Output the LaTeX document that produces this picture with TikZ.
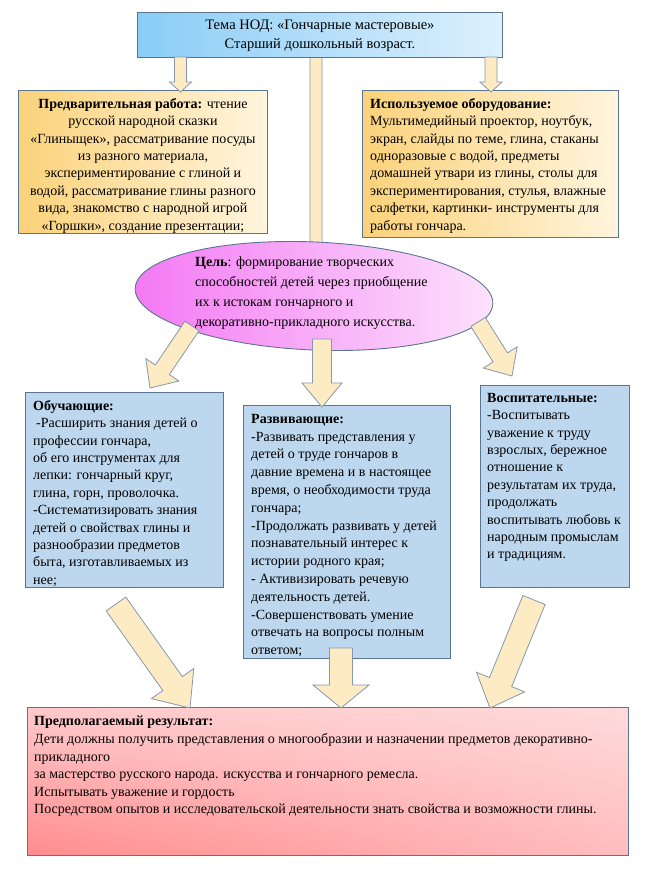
\documentclass[tikz,border=0pt]{standalone}
\usepackage{fontspec}
\setmainfont{Liberation Serif}
\usetikzlibrary{shapes.geometric,calc,shadings}

\definecolor{titleL}{HTML}{8ACDF6}
\definecolor{titleR}{HTML}{DDF0FD}
\definecolor{orgL}{HTML}{FBD27A}
\definecolor{orgR}{HTML}{FFF5DE}
\definecolor{ellL}{HTML}{F479F4}
\definecolor{ellR}{HTML}{FCE2FC}
\definecolor{bluebox}{HTML}{BDD7EE}
\definecolor{boxline}{HTML}{5A7590}
\definecolor{arrfill}{HTML}{FDEBC4}
\definecolor{arrline}{HTML}{8797AE}
\definecolor{resUL}{HTML}{FFC9CB}
\definecolor{resUR}{HTML}{FFDADB}
\definecolor{resLL}{HTML}{FF8C8E}
\definecolor{resLR}{HTML}{FFBDBF}

\tikzset{
 box/.style={draw=boxline, line width=0.9pt, inner sep=0pt, anchor=north west},
 txt/.style={inner sep=0pt, anchor=north west, align=left, font=\fontsize{14}{17.4}\selectfont},
 barrow/.style={draw=arrline, fill=arrfill, line width=0.8pt, line join=miter},
}

% block arrow: #1 start, #2 tip, #3 shaft width, #4 head width, #5 head length
\newcommand{\blockarrow}[5]{%
 \path[barrow] let \p1=(#1), \p2=(#2), \n1={atan2(\y2-\y1,\x2-\x1)}, \n2={veclen(\x2-\x1,\y2-\y1)} in
 {[shift={(\p1)}, rotate=\n1]
  (0pt,{#3*0.5pt}) -- ({(\n2-#5)*1pt},{#3*0.5pt}) -- ({(\n2-#5)*1pt},{#4*0.5pt})
  -- ({\n2*1pt},0pt) -- ({(\n2-#5)*1pt},{-#4*0.5pt}) -- ({(\n2-#5)*1pt},{-#3*0.5pt})
  -- (0pt,{-#3*0.5pt}) -- cycle};
}

\begin{document}
\begin{tikzpicture}[x=1pt,y=-1pt]
\useasboundingbox (0,0) rectangle (647,871);

% arrow coordinates
\coordinate (a1s) at (180.5,57);  \coordinate (a1e) at (180.5,92);
\coordinate (a2s) at (491,57);    \coordinate (a2e) at (491,92);
\coordinate (a3s) at (316,57);    \coordinate (a3e) at (316,285);
\coordinate (a4s) at (192,326);   \coordinate (a4e) at (150,388);
\coordinate (a5s) at (322,339);   \coordinate (a5e) at (322,407);
\coordinate (a6s) at (478,322);   \coordinate (a6e) at (512,376);
\coordinate (a7s) at (116,604);   \coordinate (a7e) at (190,708);
\coordinate (a8s) at (341,648);   \coordinate (a8e) at (341,708);
\coordinate (a9s) at (534,600);   \coordinate (a9e) at (490,708);

% middle arrow from title, behind the ellipse
\blockarrow{a3s}{a3e}{12}{22}{10}

% title
\node[box, left color=titleL, right color=titleR, minimum width=365pt, minimum height=45pt] (title) at (137,12) {};
\node[inner sep=0pt, align=center, font=\fontsize{14.5}{18.5}\selectfont] (titletext) at ($(title.center)+(0,1)$)
 {Тема НОД: «Гончарные мастеровые»\\Старший дошкольный возраст.};

% preparation box
\node[box, left color=orgL, right color=orgR, minimum width=249pt, minimum height=143pt] (prep) at (18,90) {};
\node[txt, anchor=north, align=center] (preptext) at ($(prep.north)+(0,8)$)
 {\textbf{Предварительная работа:} чтение\\
  русской народной сказки\\
  «Глиныщек», рассматривание посуды\\
  из разного материала,\\
  экспериментирование с глиной и\\
  водой, рассматривание глины разного\\
  вида, знакомство с народной игрой\\
  «Горшки», создание презентации;};

% equipment box
\node[box, left color=orgL, right color=orgR, minimum width=256pt, minimum height=147pt] (equip) at (362,90) {};
\node[txt] (equiptext) at ($(equip.north west)+(8,8)$)
 {\textbf{Используемое оборудование:}\\
  Мультимедийный проектор, ноутбук,\\
  экран, слайды по теме, глина, стаканы\\
  одноразовые с водой, предметы\\
  домашней утвари из глины, столы для\\
  экспериментирования, стулья, влажные\\
  салфетки, картинки- инструменты для\\
  работы гончара.};

% goal ellipse
\node[ellipse, draw=boxline, line width=0.9pt, left color=ellL, right color=ellR, rotate=-2.5,
      minimum width=358pt, minimum height=108pt, inner sep=0pt] (goal) at (314,296) {};
\node[txt, font=\fontsize{14}{20}\selectfont] (goaltext) at (195,257)
 {\textbf{Цель}: формирование творческих\\
  способностей детей через приобщение\\
  их к истокам гончарного и\\
  декоративно-прикладного искусства.};

% three task boxes
\node[box, fill=bluebox, minimum width=198pt, minimum height=195pt] (teach) at (25,392) {};
\node[txt] (teachtext) at ($(teach.north west)+(8,8)$)
 {\textbf{Обучающие:}\\
  \hspace{3pt}-Расширить знания детей о\\
  профессии гончара,\\
  об его инструментах для\\
  лепки: гончарный круг,\\
  глина, горн, проволочка.\\
  -Систематизировать знания\\
  детей о свойствах глины и\\
  разнообразии предметов\\
  быта, изготавливаемых из\\
  нее;};

\node[box, fill=bluebox, minimum width=207pt, minimum height=253pt] (develop) at (243,405) {};
\node[txt, font=\fontsize{14}{17.8}\selectfont] (developtext) at ($(develop.north west)+(8,9)$)
 {\textbf{Развивающие:}\\
  -Развивать представления у\\
  детей о труде гончаров в\\
  давние времена и в настоящее\\
  время, о необходимости труда\\
  гончара;\\
  -Продолжать развивать у детей\\
  познавательный интерес к\\
  истории родного края;\\
  - Активизировать речевую\\
  деятельность детей.\\
  -Совершенствовать умение\\
  отвечать на вопросы полным\\
  ответом;};

\node[box, fill=bluebox, minimum width=149pt, minimum height=202pt] (educate) at (480,385) {};
\node[txt] (educatetext) at ($(educate.north west)+(7,8)$)
 {\textbf{Воспитательные:}\\
  -Воспитывать\\
  уважение к труду\\
  взрослых, бережное\\
  отношение к\\
  результатам их труда,\\
  продолжать\\
  воспитывать любовь к\\
  народным промыслам\\
  и традициям.};

% result box
\node[box, upper left=resUL, upper right=resUR, lower left=resLL, lower right=resLR,
      minimum width=601pt, minimum height=148pt] (result) at (27,707) {};
\node[txt, font=\fontsize{14}{17.6}\selectfont] (resulttext) at ($(result.north west)+(7,9)$)
 {\textbf{Предполагаемый результат:}\\
  Дети должны получить представления о многообразии и назначении предметов декоративно-\\
  прикладного\\
  за мастерство русского народа. искусства и гончарного ремесла.\\
  Испытывать уважение и гордость\\
  Посредством опытов и исследовательской деятельности знать свойства и возможности глины.};

% block arrows
\blockarrow{a1s}{a1e}{12}{22}{10}
\blockarrow{a2s}{a2e}{12}{22}{10}
\blockarrow{a4s}{a4e}{17}{40}{22}
\blockarrow{a5s}{a5e}{19}{40}{24}
\blockarrow{a6s}{a6e}{17}{40}{22}
\blockarrow{a7s}{a7e}{24}{52}{30}
\blockarrow{a8s}{a8e}{23}{56}{23}
\blockarrow{a9s}{a9e}{24}{52}{28}
\end{tikzpicture}
\end{document}
